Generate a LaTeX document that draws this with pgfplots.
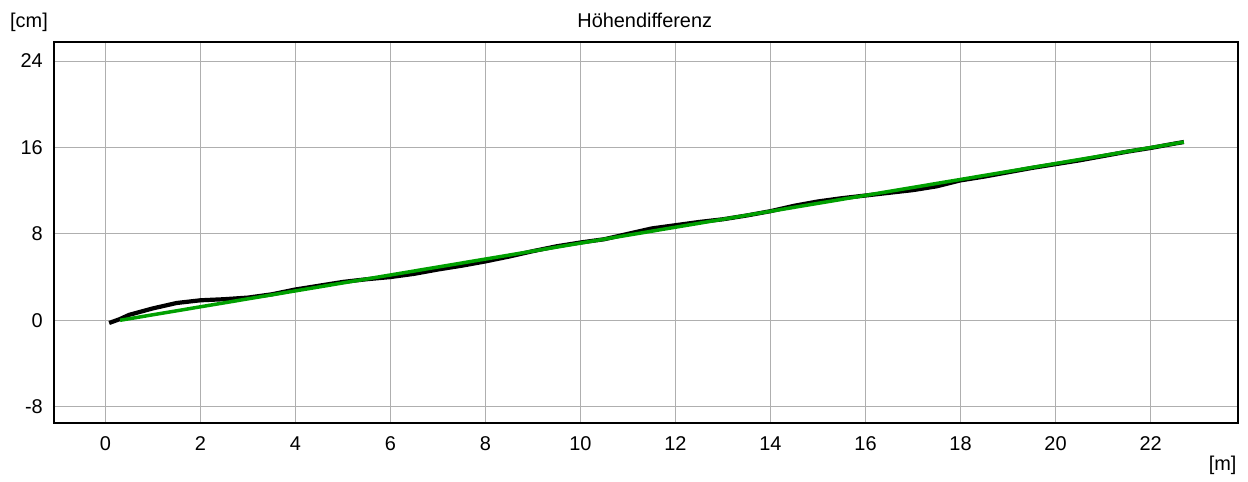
\documentclass[border=0pt]{standalone}
\usepackage{fontspec}
\setmainfont{Liberation Sans}
\usepackage{pgfplots}
\pgfplotsset{compat=1.18}
\definecolor{grn}{RGB}{0,160,0}
\definecolor{gridgray}{RGB}{175,175,175}
\begin{document}
\fontsize{20}{24}\selectfont
\begin{tikzpicture}
\begin{axis}[name=ax, scale only axis, width=1183.5bp, height=380.7bp,
 xmin=-1.07, xmax=23.84, ymin=-9.48, ymax=25.76,
 xtick={0,2,4,6,8,10,12,14,16,18,20,22},
 xticklabels={0,2,4,6,8,10,12,14,16,18,20,22},
 ytick={-8,0,8,16,24},
 yticklabels={-8,0,8,16,24},
 major tick length=0pt,
 grid=major, grid style={color=gridgray, line width=0.8bp},
 axis line style={line width=2bp},
 tick label style={font=\fontsize{20}{24}\selectfont, inner sep=0pt},
 xticklabel style={yshift=-13.5bp},
 yticklabel style={xshift=-11.5bp},
]
\addplot[black, line width=4.2bp, line join=round] coordinates {
(0.08,-0.25) (0.3,0.1) (0.5,0.5) (1.0,1.1) (1.5,1.6) (2.0,1.85) (2.5,1.95)
(3.0,2.1) (3.5,2.4) (4.0,2.85) (4.5,3.2) (5.0,3.55) (5.5,3.8) (6.0,4.0)
(6.5,4.3) (7.0,4.7) (7.5,5.05) (8.0,5.45) (8.5,5.9) (9.0,6.4) (9.5,6.85)
(10.0,7.2) (10.5,7.5) (11.0,8.0) (11.5,8.5) (12.0,8.8) (12.5,9.1) (13.0,9.35)
(13.5,9.7) (14.0,10.1) (14.5,10.6) (15.0,11.0) (15.5,11.3) (16.0,11.55)
(16.5,11.8) (17.0,12.05) (17.5,12.4) (18.0,12.95) (18.5,13.3) (19.0,13.7)
(19.5,14.1) (20.0,14.45) (20.5,14.8) (21.0,15.2) (21.5,15.6) (22.0,15.95)
(22.5,16.35) (22.7,16.5)
};
\addplot[grn, line width=3.5bp] coordinates {(0.31,0) (22.7,16.5)};
\end{axis}
\node[inner sep=0pt, anchor=west, font=\fontsize{20}{24}\selectfont] at ([shift={(-44.5bp,19.5bp)}]ax.north west) {[cm]};
\node[inner sep=0pt, font=\fontsize{20}{24}\selectfont] at ([shift={(-1.5bp,21.5bp)}]ax.north) {Höhendifferenz};
\node[inner sep=0pt, anchor=east, font=\fontsize{20}{24}\selectfont] at ([shift={(-1.3bp,-42.3bp)}]ax.south east) {[m]};
\path ([shift={(-54.5bp,-59.3bp)}]ax.south west) rectangle ([shift={(10bp,42bp)}]ax.north east);
\end{tikzpicture}
\end{document}
